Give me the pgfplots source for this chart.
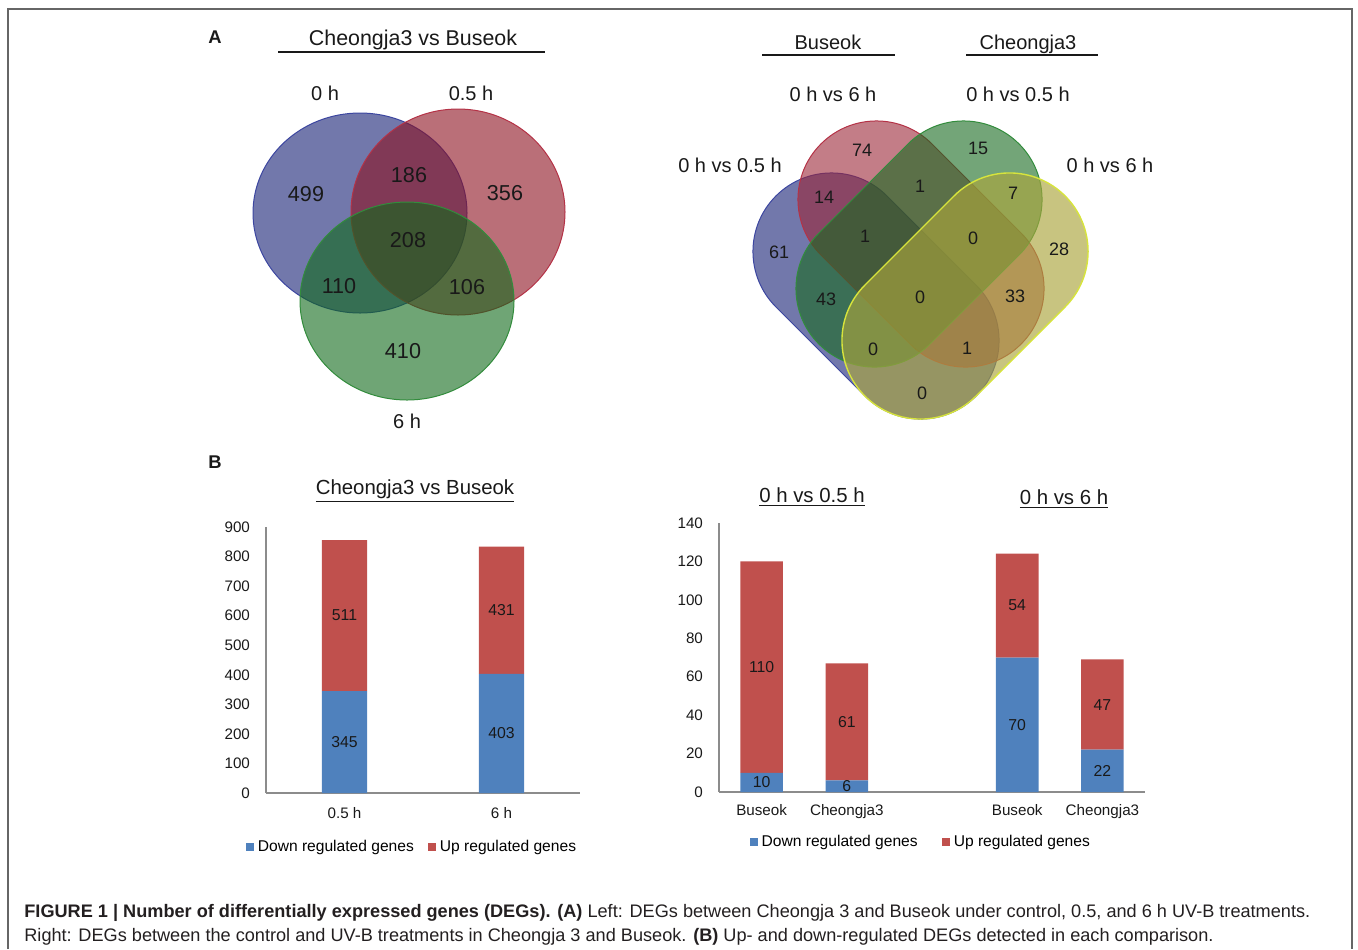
\documentclass[border=0pt]{standalone}
\usepackage{pgfplots}
\pgfplotsset{compat=1.18}
\usepackage{fontspec}
\setmainfont{Liberation Sans}
\usetikzlibrary{shapes.misc,shapes.geometric}
\definecolor{barblue}{RGB}{79,129,189}
\definecolor{barred}{RGB}{192,80,77}
\definecolor{axgray}{RGB}{140,140,140}
\definecolor{vblue}{RGB}{20,30,115}
\definecolor{vred}{RGB}{140,15,30}
\definecolor{vgreen}{RGB}{15,105,25}
\definecolor{eblue}{RGB}{60,70,160}
\definecolor{ered}{RGB}{180,50,70}
\definecolor{egreen}{RGB}{50,140,60}
\definecolor{wred}{RGB}{155,38,55}
\definecolor{wgreen}{RGB}{22,105,30}
\definecolor{wyellow}{RGB}{170,165,60}
\definecolor{eyellow}{RGB}{215,228,60}
\definecolor{captext}{RGB}{35,31,32}
\definecolor{txt}{RGB}{25,25,25}
\newcommand{\fs}[1]{\fontsize{#1}{#1}\selectfont}
\pgfplotsset{
  barax/.style={
    scale only axis, ybar stacked,
    axis x line*=bottom, axis y line*=left,
    axis line style={draw=axgray, line width=0.6pt, -},
    every outer x axis line/.append style={-},
    every outer y axis line/.append style={-},
    tick style={draw=none},
    major tick length=0pt,
    tick label style={font=\fs{7.6}, text=txt},
    /pgf/number format/assume math mode=true,
    yticklabel style={xshift=-4.5pt},
    legend style={draw=none, fill=none, font=\fs{7.8}, legend columns=2,
      inner sep=0pt},
    legend image code/.code={\fill[##1] (0pt,-2pt) rectangle (4pt,2pt);},
  },
  labax/.style={scale only axis, hide axis, clip=false},
  labplot/.style={only marks, mark=none, nodes near coords,
    point meta=explicit symbolic,
    every node near coord/.append style={font=\fs{7.9}, text=txt, anchor=center, inner sep=0pt}},
}
\pgfplotstableread{
x y lab
0 172.5 345
0 600.5 511
1 201.5 403
1 618.5 431
}\leftlabels
\pgfplotstableread{
x y lab
0 5 10
0 65 110
1 3 6
1 36.5 61
3 35 70
3 97 54
4 11 22
4 45.5 47
}\rightlabels
\begin{document}
\begin{tikzpicture}
\useasboundingbox (0,0) rectangle (679pt,474.5pt);

% ---------- left bar chart ----------
\begin{axis}[barax, at={(133pt,78pt)}, anchor=south west, width=157pt, height=133pt,
  xmin=-0.5, xmax=1.5, ymin=0, ymax=900, ytick={0,100,...,900},
  xtick={0,1}, xticklabels={0.5 h,6 h}, bar width=0.287,
  xticklabel style={yshift=-3.5pt},
  legend style={at={(0.468,-0.203)}, anchor=center,
    /tikz/every even column/.append style={column sep=5pt}}]
\addplot[fill=barblue, draw=none] coordinates {(0,345) (1,403)};
\addplot[fill=barred, draw=none] coordinates {(0,511) (1,431)};
\legend{Down regulated genes, Up regulated genes}
\end{axis}
\begin{axis}[labax, at={(133pt,78pt)}, anchor=south west, width=157pt, height=133pt,
  xmin=-0.5, xmax=1.5, ymin=0, ymax=900]
\addplot[labplot] table[x=x, y=y, meta=lab] {\leftlabels};
\end{axis}

% ---------- right bar chart ----------
\begin{axis}[barax, at={(359.5pt,78.5pt)}, anchor=south west, width=213pt, height=134.5pt,
  xmin=-0.5, xmax=4.5, ymin=0, ymax=140, ytick={0,20,...,140},
  xtick={0,1,3,4}, xticklabels={Buseok,Cheongja3,Buseok,Cheongja3}, bar width=0.5,
  xticklabel style={yshift=-2.5pt},
  legend style={at={(0.476,-0.186)}, anchor=center,
    /tikz/every even column/.append style={column sep=10pt}}]
\addplot[fill=barblue, draw=none] coordinates {(0,10) (1,6) (3,70) (4,22)};
\addplot[fill=barred, draw=none] coordinates {(0,110) (1,61) (3,54) (4,47)};
\legend{Down regulated genes, Up regulated genes}
\end{axis}
\begin{axis}[labax, at={(359.5pt,78.5pt)}, anchor=south west, width=213pt, height=134.5pt,
  xmin=-0.5, xmax=4.5, ymin=0, ymax=140]
\addplot[labplot] table[x=x, y=y, meta=lab] {\rightlabels};
\end{axis}

% ---------- overlay: Venn diagrams and texts (pixel coordinates) ----------
\begin{axis}[at={(0pt,0pt)}, anchor=south west, scale only axis,
  width=679pt, height=474.5pt, xmin=0, xmax=1358, ymin=0, ymax=949,
  y dir=reverse, hide axis, clip=false]
\addplot[draw=none] coordinates {(0,0)};
% frame
\draw[line width=1pt, black!60] (7.5,949) -- (7.5,8.5) -- (1352,8.5) -- (1352,949);

% panel letters
\node[font=\bfseries\fs{9.2}, text=txt] at (215,37) {A};
\node[font=\bfseries\fs{9.2}, text=txt] at (215,462) {B};

% left Venn
\node[ellipse, minimum width=107pt, minimum height=100pt, inner sep=0pt,
  fill=vblue, fill opacity=0.6, draw=eblue, line width=0.5pt] at (360,213) {};
\node[ellipse, minimum width=107pt, minimum height=103pt, inner sep=0pt,
  fill=vred, fill opacity=0.6, draw=ered, line width=0.5pt] at (458,212) {};
\node[ellipse, minimum width=107pt, minimum height=99pt, inner sep=0pt,
  fill=vgreen, fill opacity=0.6, draw=egreen, line width=0.5pt] at (407,301) {};
\begin{scope}[every node/.style={font=\fs{10.8}, text=txt}]
\node at (306,194) {499};
\node at (409,175) {186};
\node at (505,193) {356};
\node at (408,240) {208};
\node at (339,286) {110};
\node at (467,287) {106};
\node at (403,351) {410};
\end{scope}
\begin{scope}[every node/.style={font=\fs{10}, text=txt}]
\node at (325,93) {0 h};
\node at (471,93) {0.5 h};
\node at (407,421) {6 h};
\node[anchor=base, font=\fs{10.7}] at (413,45) {Cheongja3 vs Buseok};
\end{scope}
\draw[line width=1pt, txt] (278,52) -- (545,52);

% right Venn (4 sets)
\node[rounded rectangle, minimum width=141.5pt, minimum height=78.5pt, inner sep=0pt, rotate=-45,
  fill=vblue, fill opacity=0.6, draw=eblue, line width=0.5pt] at (876,296) {};
\node[rounded rectangle, minimum width=141.5pt, minimum height=78.5pt, inner sep=0pt, rotate=-45,
  fill=wred, fill opacity=0.6, draw=ered, line width=0.5pt] at (921,244) {};
\node[rounded rectangle, minimum width=141.5pt, minimum height=78.5pt, inner sep=0pt, rotate=45,
  fill=wgreen, fill opacity=0.6, draw=egreen, line width=0.5pt] at (919,244) {};
\node[rounded rectangle, minimum width=141.5pt, minimum height=78.5pt, inner sep=0pt, rotate=45,
  fill=wyellow, fill opacity=0.65, draw=eyellow, line width=0.7pt] at (965,296) {};
\begin{scope}[every node/.style={font=\fs{9}, text=txt}]
\node at (862,150) {74};
\node at (978,148) {15};
\node at (824,197) {14};
\node at (920,186) {1};
\node at (1013,193) {7};
\node at (779,252) {61};
\node at (865,236) {1};
\node at (973,238) {0};
\node at (1059,249) {28};
\node at (826,299) {43};
\node at (920,297) {0};
\node at (1015,296) {33};
\node at (873,349) {0};
\node at (967,348) {1};
\node at (922,393) {0};
\end{scope}
\begin{scope}[every node/.style={font=\fs{10}, text=txt, anchor=base}]
\node at (828,49) {Buseok};
\node at (1028,49) {Cheongja3};
\node at (833,101) {0 h vs 6 h};
\node at (1018,101) {0 h vs 0.5 h};
\node at (730,172) {0 h vs 0.5 h};
\node at (1110,172) {0 h vs 6 h};
\end{scope}
\draw[line width=1pt, txt] (762,55) -- (895,55);
\draw[line width=1pt, txt] (966,55) -- (1098,55);

% bar chart titles
\begin{scope}[every node/.style={font=\fs{10.2}, text=txt, anchor=base}]
\node at (415,494) {\underline{Cheongja3 vs Buseok}};
\node at (812,502) {\underline{0 h vs 0.5 h}};
\node at (1064,504) {\underline{0 h vs 6 h}};
\end{scope}

% caption
\node[anchor=base west, inner sep=0pt, font=\fs{9.07}, text=captext] at (24,917)
  {\textbf{FIGURE 1 | Number of differentially expressed genes (DEGs). (A)} Left: DEGs between Cheongja 3 and Buseok under control, 0.5, and 6 h UV-B treatments.};
\node[anchor=base west, inner sep=0pt, font=\fs{9.07}, text=captext] at (24,941)
  {Right: DEGs between the control and UV-B treatments in Cheongja 3 and Buseok. \textbf{(B)} Up- and down-regulated DEGs detected in each comparison.};
\end{axis}
\end{tikzpicture}
\end{document}
